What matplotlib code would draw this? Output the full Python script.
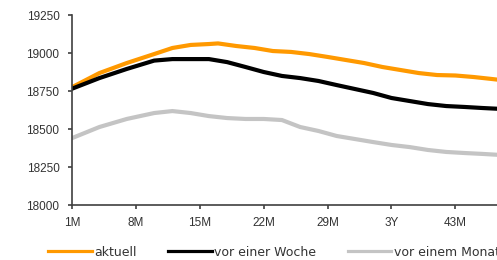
import matplotlib.pyplot as plt

plt.rcParams['font.family'] = ['Liberation Sans', 'DejaVu Sans']

# Laufzeit in Monaten
monate = [1, 4, 7, 10, 12, 14, 16, 17, 19, 21, 23, 25, 27, 29, 31, 33, 35, 37, 39, 41, 43, 45, 47, 48]
aktuell = [18775, 18868, 18934, 18993, 19033, 19053, 19059, 19063, 19046, 19033, 19013, 19007,
           18993, 18974, 18954, 18934, 18908, 18888, 18868, 18855, 18852, 18842, 18829, 18822]

monate_w = [1, 4, 7, 10, 12, 14, 16, 18, 20, 22, 24, 26, 28, 30, 32, 34, 36, 38, 40, 42, 44, 46, 48]
vor_woche = [18765, 18835, 18895, 18950, 18960, 18960, 18960, 18940, 18908, 18875, 18849, 18835,
             18816, 18789, 18763, 18737, 18704, 18684, 18664, 18651, 18645, 18638, 18632]
vor_monat = [18440, 18513, 18566, 18605, 18618, 18605, 18585, 18572, 18566, 18566, 18559, 18513,
             18487, 18454, 18434, 18414, 18395, 18381, 18362, 18349, 18342, 18336, 18329]

tick_pos = [1, 8, 15, 22, 29, 36, 43]
tick_lab = ['1M', '8M', '15M', '22M', '29M', '3Y', '43M']
y_ticks = [18000, 18250, 18500, 18750, 19000, 19250]

fig = plt.figure(figsize=(4.97, 2.6), dpi=100)
ax = fig.add_axes([72 / 497, 1 - 205 / 260, 429 / 497, 190 / 260])

ax.plot(monate, aktuell, color='#FF9900', lw=3, label='aktuell')
ax.plot(monate_w, vor_woche, color='black', lw=3, label='vor einer Woche')
ax.plot(monate_w, vor_monat, color='#C4C4C4', lw=3, label='vor einem Monat')

ax.set_xlim(1, 48)
ax.set_ylim(18000, 19250)
ax.set_xticks(tick_pos)
ax.set_xticklabels(tick_lab)
ax.set_yticks(y_ticks)

for s in ['top', 'right']:
    ax.spines[s].set_visible(False)
for s in ['left', 'bottom']:
    ax.spines[s].set_color('#404040')
    ax.spines[s].set_linewidth(1.2)
ax.tick_params(colors='#404040', labelcolor='#333333', labelsize=8.5, length=3, width=1.2)
ax.tick_params(axis='x', pad=6)
ax.tick_params(axis='y', pad=6)

leg = fig.legend(loc='center left', bbox_to_anchor=(48 / 497, 1 - 252 / 260), ncol=3, frameon=False,
                 prop={'family': 'DejaVu Sans', 'size': 9}, handlelength=3.5, handletextpad=0.2,
                 columnspacing=2.5, borderpad=0, borderaxespad=0, labelcolor='#333333')
for l in leg.get_lines():
    l.set_linewidth(2.3)

fig.savefig('out.png', dpi=100)
